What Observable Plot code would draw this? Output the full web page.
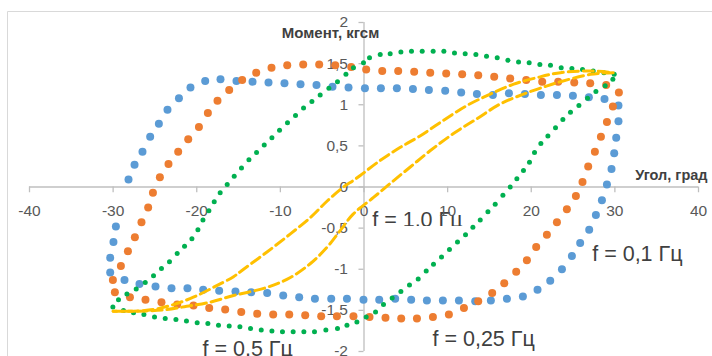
<!DOCTYPE html>
<html><head><meta charset="utf-8">
<script src="https://cdn.jsdelivr.net/npm/d3@7"></script>
<script src="https://cdn.jsdelivr.net/npm/@observablehq/plot@0.6"></script>
<style>body{margin:0;background:#fff;overflow:hidden;} svg{display:block;}</style>
</head><body><div id="chart"></div>
<script>
// ---- axis ticks ----
const xTicks = [-40, -30, -20, -10, 0, 10, 20, 30, 40];
const yTicks = [-2, -1.5, -1, -0.5, 0, 0.5, 1, 1.5, 2];

// ---- f = 0,1 Гц (blue) ----
const blueAngle = [-28.16, -27.44, -26.49, -25.57, -24.53, -23.50, -22.13, -20.75, -18.99, -17.16,
  -15.25, -13.33, -11.42, -9.51, -7.59, -5.68, -3.77, -1.85, 0.11, 2.02,
  3.93, 5.85, 7.76, 9.71, 11.62, 13.50, 15.41, 17.33, 19.24, 21.15,
  23.07, 24.98, 26.89, 28.76, 30.43, 30.43, 30.16, 29.92, 29.60, 29.05,
  28.45, 27.73, 26.93, 25.85, 24.86, 23.67, 22.27, 20.75, 19.00, 17.09,
  15.17, 13.30, 11.35, 9.43, 7.52, 5.64, 3.73, 1.82, -0.06, -2.04,
  -3.92, -5.87, -7.75, -9.66, -11.58, -13.49, -15.37, -17.32, -19.23, -21.11,
  -23.02, -24.93, -26.85, -28.64, -30.35, -30.35, -29.96, -29.67];
const blueMoment = [0.09, 0.27, 0.43, 0.61, 0.77, 0.94, 1.08, 1.21, 1.29, 1.31,
  1.29, 1.28, 1.27, 1.26, 1.25, 1.24, 1.22, 1.21, 1.20, 1.20,
  1.20, 1.19, 1.18, 1.17, 1.15, 1.13, 1.12, 1.14, 1.13, 1.12,
  1.12, 1.11, 1.09, 1.07, 0.99, 0.80, 0.60, 0.41, 0.22, 0.03,
  -0.16, -0.34, -0.52, -0.68, -0.84, -1.00, -1.14, -1.25, -1.33, -1.36,
  -1.38, -1.39, -1.38, -1.38, -1.38, -1.37, -1.36, -1.37, -1.37, -1.36,
  -1.36, -1.36, -1.34, -1.32, -1.29, -1.28, -1.27, -1.26, -1.25, -1.23,
  -1.23, -1.21, -1.18, -1.13, -1.04, -0.86, -0.67, -0.48];

// ---- f = 0,25 Гц (orange) ----
const orangeAngle = [-24.41, -23.38, -22.22, -21.02, -19.74, -18.67, -17.52, -16.12, -14.57, -12.89,
  -11.06, -9.18, -7.27, -5.36, -3.44, -1.53, 0.26, 2.18, 4.09, 6.00,
  7.92, 9.83, 11.74, 13.66, 15.57, 17.48, 19.40, 21.31, 23.22, 25.14,
  27.05, 28.96, 30.48, 29.76, 29.05, 28.33, 27.61, 26.81, 26.13, 25.34,
  24.26, 23.07, 21.87, 20.59, 19.48, 18.20, 16.77, 15.33, 13.66, 11.95,
  10.15, 8.24, 6.33, 4.45, 2.57, 0.66, -1.26, -3.24, -5.12, -7.03,
  -8.94, -10.86, -12.77, -14.68, -16.60, -18.51, -20.39, -22.34, -24.22, -26.13,
  -27.99, -29.79, -30.03, -29.07, -28.23, -27.40, -26.61, -25.81, -25.24];
const orangeMoment = [0.12, 0.28, 0.43, 0.58, 0.73, 0.90, 1.05, 1.18, 1.30, 1.39,
  1.45, 1.48, 1.49, 1.49, 1.48, 1.46, 1.43, 1.41, 1.41, 1.40,
  1.39, 1.38, 1.37, 1.36, 1.34, 1.32, 1.30, 1.28, 1.28, 1.27,
  1.26, 1.24, 1.15, 0.98, 0.79, 0.61, 0.43, 0.25, 0.06, -0.11,
  -0.27, -0.43, -0.58, -0.73, -0.89, -1.03, -1.17, -1.29, -1.39, -1.47,
  -1.55, -1.58, -1.60, -1.60, -1.59, -1.58, -1.57, -1.57, -1.57, -1.56,
  -1.55, -1.55, -1.54, -1.52, -1.49, -1.47, -1.44, -1.43, -1.40, -1.37,
  -1.34, -1.28, -1.13, -0.96, -0.78, -0.61, -0.43, -0.25, -0.07];

// ---- f = 0,5 Гц (green) ----
const greenAngle = [-30.03, -29.36, -28.35, -27.24, -26.16, -25.17, -24.22, -23.26, -22.34, -21.46,
  -20.58, -19.86, -19.26, -18.55, -17.91, -17.20, -16.36, -15.52, -14.65, -13.76,
  -12.85, -11.93, -11.01, -10.10, -9.15, -8.19, -7.23, -6.23, -5.24, -4.20,
  -3.17, -2.16, -1.26, -0.06, 0.66, 1.94, 3.13, 4.41, 5.68, 6.96,
  8.27, 9.55, 10.82, 12.10, 13.38, 14.65, 15.93, 17.21, 18.48, 19.75,
  21.03, 22.30, 23.58, 24.86, 26.13, 27.41, 28.69, 29.92,
  29.76, 28.84, 27.73, 26.73, 25.70, 24.69, 23.78, 22.90, 21.99, 21.15,
  20.39, 19.79, 19.07, 18.28, 17.48, 16.61, 15.69, 14.82, 13.90, 13.02,
  12.14, 11.18, 10.22, 9.27, 8.31, 7.44, 6.48, 5.44, 4.41, 3.37,
  2.33, 1.38, 0.26, -0.85,
  -2.04, -3.17, -4.56, -5.92, -7.19, -8.47, -9.75, -11.01, -12.29, -13.57,
  -14.84, -16.12, -17.40, -18.67, -19.95, -21.23, -22.49, -23.77, -25.05, -26.32,
  -27.56, -28.76];
const greenMoment = [-1.46, -1.37, -1.30, -1.24, -1.16, -1.08, -0.99, -0.91, -0.81, -0.72,
  -0.63, -0.52, -0.40, -0.29, -0.18, -0.07, 0.03, 0.13, 0.23, 0.33,
  0.42, 0.51, 0.60, 0.69, 0.78, 0.87, 0.96, 1.04, 1.12, 1.20,
  1.28, 1.37, 1.45, 1.51, 1.57, 1.61, 1.62, 1.64, 1.65, 1.65,
  1.65, 1.65, 1.63, 1.62, 1.61, 1.59, 1.57, 1.54, 1.52, 1.51,
  1.49, 1.48, 1.45, 1.44, 1.43, 1.41, 1.39, 1.37,
  1.31, 1.23, 1.16, 1.08, 0.99, 0.91, 0.82, 0.72, 0.62, 0.53,
  0.42, 0.30, 0.20, 0.10, 0.00, -0.10, -0.21, -0.30, -0.40, -0.49,
  -0.58, -0.67, -0.76, -0.85, -0.94, -1.02, -1.12, -1.19, -1.27, -1.35,
  -1.43, -1.52, -1.58, -1.64,
  -1.68, -1.72, -1.74, -1.76, -1.76, -1.76, -1.76, -1.75, -1.74, -1.72,
  -1.70, -1.69, -1.68, -1.66, -1.65, -1.63, -1.61, -1.60, -1.58, -1.55,
  -1.53, -1.50];

// ---- f = 1,0 Гц (yellow dashed) ----
const yellowUpAngle = [-30.0, -27.6, -25.2, -22.8, -20.4, -18.0, -15.6, -14.4, -11.6, -8.8,
  -6.4, -4.4, -2.45, -1.26, -0.45, 1.9, 4.3, 6.7, 9.5, 12.3,
  15.1, 17.9, 20.7, 23.5, 27.4, 29.8];
const yellowUpMoment = [-1.51, -1.51, -1.49, -1.43, -1.34, -1.22, -1.09, -1.00, -0.79, -0.57,
  -0.37, -0.17, 0.0, 0.08, 0.14, 0.32, 0.48, 0.62, 0.81, 0.99,
  1.13, 1.25, 1.33, 1.39, 1.41, 1.39];
const yellowDownAngle = [29.8, 27.1, 23.5, 21.9, 19.1, 16.3, 13.5, 10.7, 7.9, 5.5,
  3.1, 1.1, -1.3, -2.85, -4.4, -6.4, -8.8, -11.6, -15.6, -18.8,
  -21.2, -23.6, -27.0, -30.0];
const yellowDownMoment = [1.39, 1.37, 1.28, 1.23, 1.13, 1.01, 0.83, 0.65, 0.44, 0.24,
  0.04, -0.13, -0.33, -0.53, -0.73, -0.93, -1.10, -1.22, -1.32, -1.41,
  -1.45, -1.49, -1.51, -1.51];

// ---- labels ----
const xTitle = "Угол, град";
const yTitle = "Момент, кгсм";
const annLabel = ["f = 0,1 Гц", "f = 0,25 Гц", "f = 0,5 Гц"];
const annAngle = [27.29, 8.19, -19.31];
const annMoment = [-0.905, -1.935, -2.06];
const ann10Label = ["f = 1,0 Гц"];
const ann10Angle = [0.98];
const ann10Moment = [-0.49];

const rows = (a, m) => a.map((x, i) => ({angle: x, moment: m[i]}));
const blue = rows(blueAngle, blueMoment);
const orange = rows(orangeAngle, orangeMoment);
const green = rows(greenAngle, greenMoment);
const yellowUp = rows(yellowUpAngle, yellowUpMoment);
const yellowDown = rows(yellowDownAngle, yellowDownMoment);
const anns = annLabel.map((t, i) => ({t, angle: annAngle[i], moment: annMoment[i]}));
const ann10 = ann10Label.map((t, i) => ({t, angle: ann10Angle[i], moment: ann10Moment[i]}));

const fmt = d => String(d).replace(".", ",");
const font = "'Liberation Sans', Arial, sans-serif";
const axisColor = "#bfbfbf";
const labelColor = "#595959";
const textColor = "#404040";
const dashStyle = {stroke: "#FFC000", strokeWidth: 3, strokeDasharray: "10,5", curve: "catmull-rom"};

const chart = Plot.plot({
  width: 712, height: 356,
  marginLeft: 29, marginRight: 14, marginTop: 22, marginBottom: 5,
  style: {fontFamily: font, background: "#fff", overflow: "hidden"},
  x: {domain: [-40, 40], axis: null},
  y: {domain: [-2, 2], axis: null},
  marks: [
    Plot.ruleY([0], {stroke: axisColor, strokeWidth: 1.3}),
    Plot.ruleX([0], {stroke: axisColor, strokeWidth: 1.3}),
    Plot.ruleX(xTicks, {x: d => d, y1: 0, y2: -0.07, stroke: axisColor, strokeWidth: 1.3}),
    Plot.ruleY(yTicks, {y: d => d, x1: -0.6, x2: 0, stroke: axisColor, strokeWidth: 1.3}),
    Plot.text(ann10, {x: "angle", y: "moment", text: "t", fontSize: 21.5, fill: textColor, textAnchor: "start", lineAnchor: "bottom"}),
    Plot.text(xTicks, {x: d => d, y: 0, dy: 24, text: fmt, fontSize: 15.5, fill: labelColor}),
    Plot.text(yTicks, {x: 0, y: d => d, dx: -16, textAnchor: "end", text: fmt, fontSize: 15.5, fill: labelColor}),
    Plot.dot(blue, {x: "angle", y: "moment", r: 4, fill: "#5B9BD5"}),
    Plot.dot(orange, {x: "angle", y: "moment", r: 4, fill: "#ED7D31"}),
    Plot.dot(green, {x: "angle", y: "moment", r: 2.5, fill: "#00B050"}),
    Plot.line(yellowUp, {x: "angle", y: "moment", ...dashStyle}),
    Plot.line(yellowDown, {x: "angle", y: "moment", ...dashStyle}),
    Plot.text([yTitle], {x: -4.0, y: 1.81, text: d => d, fontSize: 15, fontWeight: "bold", fill: textColor, lineAnchor: "bottom"}),
    Plot.text([xTitle], {x: 36.76, y: 0.085, text: d => d, fontSize: 14.5, fontWeight: "bold", fill: textColor, lineAnchor: "bottom"}),
    Plot.text(anns, {x: "angle", y: "moment", text: "t", fontSize: 21.5, fill: textColor, textAnchor: "start", lineAnchor: "bottom"})
  ]
});

document.getElementById("chart").appendChild(chart);

const svg = d3.select(chart);
svg.append("path").attr("d", "M7.5,356V11.5H712").attr("fill", "none").attr("stroke", "#d9d9d9").attr("stroke-width", 1);
svg.append("defs").append("clipPath").attr("id", "clipF10").attr("clipPathUnits", "userSpaceOnUse")
  .append("rect").attr("x", 0).attr("y", 0).attr("width", 712).attr("height", 225.5);
svg.selectAll("text").filter(function() { return this.textContent === ann10Label[0]; })
  .each(function() {
    const g = document.createElementNS("http://www.w3.org/2000/svg", "g");
    this.parentNode.insertBefore(g, this);
    g.appendChild(this);
    g.setAttribute("clip-path", "url(#clipF10)");
  });
</script>
</body></html>
